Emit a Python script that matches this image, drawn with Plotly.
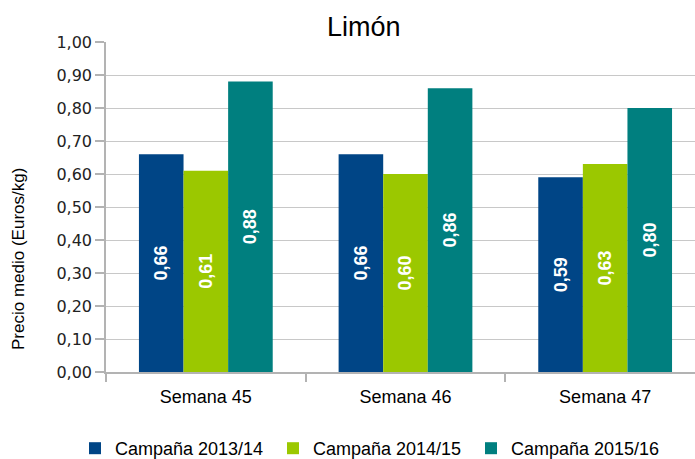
import plotly.graph_objects as go

categories = ["Semana 45", "Semana 46", "Semana 47"]
series_names = ["Campaña 2013/14", "Campaña 2014/15", "Campaña 2015/16"]
v_2013_14 = [0.66, 0.66, 0.59]
v_2014_15 = [0.61, 0.60, 0.63]
v_2015_16 = [0.88, 0.86, 0.80]
colors = ["#004586", "#9bc800", "#007f7f"]
y_ticks = [0.0, 0.1, 0.2, 0.3, 0.4, 0.5, 0.6, 0.7, 0.8, 0.9, 1.0]

W, H = 695, 459
L, R, T, B = 106, 0, 42, 87
pw, ph = W - L - R, H - T - B

def px(x):
    return (x - L) / pw

def py(y):
    return (H - B - y) / ph

fig = go.Figure()
for name, vals, col in zip(series_names, [v_2013_14, v_2014_15, v_2015_16], colors):
    fig.add_trace(go.Bar(
        x=categories, y=vals, name=name, marker=dict(color=col, line=dict(width=0)),
        texttemplate="%{y:.2f}", textposition="inside", insidetextanchor="middle",
        textangle=-90,
        textfont=dict(color="white", size=18, family="Liberation Sans Narrow, Liberation Sans",
                      weight="bold"),
        cliponaxis=False,
    ))

fig.update_layout(
    width=W, height=H,
    margin=dict(l=L, r=R, t=T, b=B, autoexpand=False),
    paper_bgcolor="white", plot_bgcolor="white",
    separators=",.",
    barmode="group", bargap=0.33, bargroupgap=0,
    font=dict(family="Liberation Sans", color="#000000"),
    showlegend=True,
    legend=dict(orientation="h", x=px(75), y=py(430), xanchor="left", yanchor="top",
                font=dict(size=18, family="Liberation Sans"),
                entrywidth=153, entrywidthmode="pixels", itemwidth=30,
                traceorder="normal", bgcolor="rgba(0,0,0,0)"),
    xaxis=dict(range=[-0.5, 2.45], showgrid=False, showline=True, linecolor="#b3b3b3",
               linewidth=1.5, tickson="boundaries", ticks="outside", ticklen=8,
               tickcolor="#b3b3b3", tickwidth=1.5, automargin=False,
               ticklabelstandoff=8,
               tickfont=dict(size=18, family="Liberation Sans", color="#000000")),
    yaxis=dict(range=[0, 1.0], tickvals=y_ticks, tickformat=".2f", showgrid=True,
               gridcolor="#c8c8c8", gridwidth=1, zeroline=False, showline=True,
               linecolor="#b3b3b3", linewidth=1.5, ticks="outside", ticklen=9,
               tickcolor="#b3b3b3", tickwidth=1.5, automargin=False,
               tickfont=dict(size=16, family="DejaVu Sans", color="#222222")),
    annotations=[
        dict(text="Limón", x=px(364), y=py(27), xref="paper", yref="paper",
             xanchor="center", yanchor="middle", showarrow=False,
             font=dict(size=27, family="Liberation Sans", color="#000000")),
        dict(text="Precio medio (Euros/kg)", x=px(18), y=py(259), xref="paper", yref="paper",
             xanchor="center", yanchor="middle", showarrow=False, textangle=-90,
             font=dict(size=17, family="Liberation Sans", color="#000000")),
    ],
)

fig.write_html("out.html", config={"displayModeBar": False},
               post_script="document.body.style.margin='0';")
